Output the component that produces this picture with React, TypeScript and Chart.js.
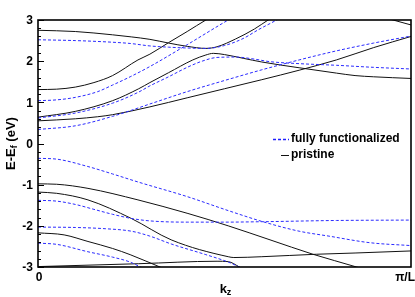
import React, { useEffect, useRef } from 'react';
import { Chart, registerables } from 'chart.js';

Chart.register(...registerables);

// axis ranges / ticks
const kRange = [0, 1];
const eRange = [-3, 3];
const yTickValues = [-3, -2, -1, 0, 1, 2, 3];
const xTickValues = [0, 1];
const xTickLabels = ['0', 'π/L'];
const legendLabels = ['fully functionalized', 'pristine'];

// pristine bands: [k (fraction of π/L), E - Ef (eV)]
const pristine1 = [[0, 2.75], [0.1, 2.72], [0.2, 2.64], [0.25, 2.59], [0.3, 2.53], [0.35, 2.44], [0.4, 2.36], [0.45, 2.31], [0.48, 2.35], [0.53, 2.54], [0.58, 2.78], [0.617, 3.0], [0.64, 3.12]];
const pristine2 = [[0, 1.31], [0.05, 1.32], [0.1, 1.37], [0.15, 1.48], [0.2, 1.65], [0.268, 2.03], [0.3, 2.17], [0.35, 2.45], [0.4, 2.72], [0.45, 3.0], [0.47, 3.1]];
const pristine3 = [[0, 0.64], [0.1, 0.78], [0.2, 1.04], [0.27, 1.33], [0.3, 1.48], [0.35, 1.72], [0.415, 2.03], [0.45, 2.15], [0.47, 2.19], [0.5, 2.16], [0.55, 2.07], [0.6, 1.98], [0.7, 1.84], [0.8, 1.71], [0.85, 1.65], [0.9, 1.62], [1, 1.58]];
const pristine4 = [[0, 0.55], [0.1, 0.6], [0.16, 0.65], [0.2, 0.7], [0.3, 0.89], [0.4, 1.11], [0.5, 1.33], [0.6, 1.55], [0.7, 1.78], [0.8, 2.03], [0.9, 2.33], [1, 2.6]];
const pristine5 = [[0.9, 3.12], [0.952, 3.0], [1, 2.88]];
const pristine6 = [[0, -0.98], [0.05, -0.99], [0.134, -1.09], [0.268, -1.37], [0.402, -1.7], [0.51, -2.0], [0.622, -2.34], [0.737, -2.69], [0.854, -3.0], [0.9, -3.13]];
const pristine7 = [[0, -1.18], [0.05, -1.21], [0.134, -1.37], [0.25, -1.82], [0.357, -2.34], [0.51, -2.75], [0.525, -2.77], [0.6, -2.75], [0.747, -2.69], [0.85, -2.66], [1, -2.61]];
const pristine8 = [[0, -2.99], [0.27, -2.92], [0.48, -2.86], [0.51, -2.87], [0.54, -3.0], [0.56, -3.1]];
const pristine9 = [[0, -2.17], [0.07, -2.22], [0.134, -2.38], [0.2, -2.55], [0.247, -2.7], [0.327, -3.0], [0.36, -3.12]];

// fully functionalized bands
const func1 = [[0, 2.52], [0.1, 2.5], [0.2, 2.46], [0.247, 2.43], [0.3, 2.37], [0.35, 2.34], [0.4, 2.32], [0.45, 2.31], [0.5, 2.38], [0.55, 2.55], [0.59, 2.76], [0.64, 3.0], [0.66, 3.1]];
const func2 = [[0, 1.04], [0.05, 1.06], [0.1, 1.12], [0.16, 1.26], [0.2, 1.42], [0.247, 1.62], [0.3, 1.87], [0.4, 2.4], [0.51, 3.0], [0.53, 3.1]];
const func3 = [[0, 0.62], [0.1, 0.74], [0.2, 0.98], [0.27, 1.25], [0.3, 1.4], [0.35, 1.62], [0.4, 1.85], [0.44, 2.0], [0.48, 2.09], [0.53, 2.1], [0.58, 2.05], [0.62, 1.99], [0.7, 1.94], [0.8, 1.9], [0.9, 1.85], [1, 1.81]];
const func4 = [[0, 0.34], [0.1, 0.43], [0.2, 0.66], [0.3, 0.96], [0.4, 1.26], [0.5, 1.53], [0.6, 1.79], [0.7, 2.03], [0.8, 2.25], [0.9, 2.44], [1, 2.61]];
const func5 = [[0, -0.36], [0.05, -0.38], [0.134, -0.56], [0.2, -0.74], [0.27, -0.94], [0.4, -1.29], [0.51, -1.63], [0.603, -1.9], [0.7, -2.13], [0.78, -2.25], [0.89, -2.41], [1, -2.48]];
const func6 = [[0, -1.38], [0.05, -1.4], [0.1, -1.48], [0.15, -1.6], [0.2, -1.72], [0.25, -1.82], [0.3, -1.88], [0.4, -1.91], [0.5, -1.91], [0.6, -1.9], [0.8, -1.87], [1, -1.86]];
const func7 = [[0, -2.03], [0.1, -2.04], [0.18, -2.07], [0.25, -2.13], [0.3, -2.25], [0.357, -2.44], [0.45, -2.7], [0.51, -2.88], [0.54, -3.0], [0.56, -3.08]];
const func8 = [[0, -2.42], [0.05, -2.45], [0.134, -2.63], [0.2, -2.76], [0.247, -2.88], [0.275, -3.0], [0.3, -3.1]];

const pristineBands = [pristine1, pristine2, pristine3, pristine4, pristine5, pristine6, pristine7, pristine8, pristine9];
const funcBands = [func1, func2, func3, func4, func5, func6, func7, func8];

const BLUE = '#2a2aff';
const BLACK = '#111111';
const FONT = '"Liberation Sans", Arial, Helvetica, sans-serif';

const decorPlugin = {
  id: 'decor',
  afterDatasetsDraw(chart: any) {
    const { ctx, chartArea } = chart;
    const { left, right, top, bottom } = chartArea;
    const xs = chart.scales.x;
    const ys = chart.scales.y;
    ctx.save();
    // frame
    ctx.strokeStyle = '#000';
    ctx.lineWidth = 1.6;
    ctx.strokeRect(left, top, right - left, bottom - top);
    // inward ticks on left axis
    ctx.lineWidth = 1;
    for (let i = eRange[0] * 5; i <= eRange[1] * 5; i++) {
      const v = i / 5;
      const py = Math.round(ys.getPixelForValue(v)) + 0.5;
      const len = i % 5 === 0 ? 6 : 3;
      ctx.beginPath();
      ctx.moveTo(left, py);
      ctx.lineTo(left + len, py);
      ctx.stroke();
    }
    // y tick labels
    ctx.fillStyle = '#000';
    ctx.font = `bold 12px ${FONT}`;
    ctx.textAlign = 'right';
    ctx.textBaseline = 'middle';
    yTickValues.forEach((v) => {
      ctx.fillText(String(v), left - 5, ys.getPixelForValue(v) + 1);
    });
    // x tick labels
    ctx.textBaseline = 'middle';
    xTickValues.forEach((v, i) => {
      const px = xs.getPixelForValue(v);
      if (i === xTickValues.length - 1) {
        ctx.textAlign = 'right';
        ctx.fillText(xTickLabels[i], px + 4, bottom + 11);
      } else {
        ctx.textAlign = 'center';
        ctx.fillText(xTickLabels[i], px + 1, bottom + 11);
      }
    });
    // x title k_z
    const xcx = (left + right) / 2 + 1;
    const ty = bottom + 22;
    ctx.textAlign = 'left';
    ctx.textBaseline = 'middle';
    ctx.font = `bold 13px ${FONT}`;
    const kw = ctx.measureText('k').width;
    ctx.font = `bold 9px ${FONT}`;
    const zw = ctx.measureText('z').width;
    const startX = xcx - (kw + zw) / 2;
    ctx.font = `bold 13px ${FONT}`;
    ctx.fillText('k', startX, ty);
    ctx.font = `bold 9px ${FONT}`;
    ctx.fillText('z', startX + kw, ty + 4);
    // y title E-E_f (eV)
    ctx.save();
    ctx.translate(11, (top + bottom) / 2);
    ctx.rotate(-Math.PI / 2);
    ctx.font = `bold 13px ${FONT}`;
    const p1 = 'E-E';
    const p3 = ' (eV)';
    const w1 = ctx.measureText(p1).width;
    const w3 = ctx.measureText(p3).width;
    ctx.font = `bold 9px ${FONT}`;
    const w2 = ctx.measureText('f').width;
    let sx = -(w1 + w2 + w3) / 2;
    ctx.font = `bold 13px ${FONT}`;
    ctx.fillText(p1, sx, 0);
    sx += w1;
    ctx.font = `bold 9px ${FONT}`;
    ctx.fillText('f', sx, 4);
    sx += w2;
    ctx.font = `bold 13px ${FONT}`;
    ctx.fillText(p3, sx, 0);
    ctx.restore();
    // legend
    ctx.font = `bold 12px ${FONT}`;
    ctx.textAlign = 'left';
    ctx.textBaseline = 'middle';
    const lx = 273;
    const ly1 = 139;
    const ly2 = 155;
    ctx.strokeStyle = '#1f1fff';
    ctx.lineWidth = 1.3;
    ctx.setLineDash([3, 2]);
    ctx.beginPath();
    ctx.moveTo(lx, ly1 + 0.5);
    ctx.lineTo(lx + 16, ly1 + 0.5);
    ctx.stroke();
    ctx.setLineDash([]);
    ctx.lineWidth = 1;
    ctx.strokeStyle = BLACK;
    ctx.beginPath();
    ctx.moveTo(lx + 8, ly2 + 0.5);
    ctx.lineTo(lx + 16, ly2 + 0.5);
    ctx.stroke();
    ctx.fillStyle = '#000';
    ctx.fillText(legendLabels[0], lx + 18, ly1);
    ctx.fillText(legendLabels[1], lx + 18, ly2);
    ctx.restore();
  },
};

export default function App() {
  const ref = useRef<HTMLCanvasElement | null>(null);
  useEffect(() => {
    if (!ref.current) return;
    const mk = (pts: number[][], color: string, dashed: boolean) => ({
      data: pts.map(([x, y]) => ({ x, y })),
      borderColor: color,
      borderWidth: 1,
      borderDash: dashed ? [3, 2] : [],
      pointRadius: 0,
      fill: false,
      cubicInterpolationMode: 'monotone' as const,
      clip: 0,
    });
    const datasets = [
      ...funcBands.map((b) => mk(b, BLUE, true)),
      ...pristineBands.map((b) => mk(b, BLACK, false)),
    ];
    const chart = new Chart(ref.current, {
      type: 'line',
      data: { datasets },
      options: {
        animation: false,
        responsive: false,
        maintainAspectRatio: false,
        layout: { padding: { left: 38, right: 4, top: 20, bottom: 30 } },
        plugins: { legend: { display: false }, tooltip: { enabled: false } },
        scales: {
          x: { type: 'linear', min: kRange[0], max: kRange[1], display: false },
          y: { type: 'linear', min: eRange[0], max: eRange[1], display: false },
        },
      },
      plugins: [decorPlugin],
    });
    return () => chart.destroy();
  }, []);
  return (
    <div style={{ position: 'absolute', left: 0, top: 0, width: 415, height: 297, background: '#fff' }}>
      <canvas ref={ref} width={415} height={297} />
    </div>
  );
}
